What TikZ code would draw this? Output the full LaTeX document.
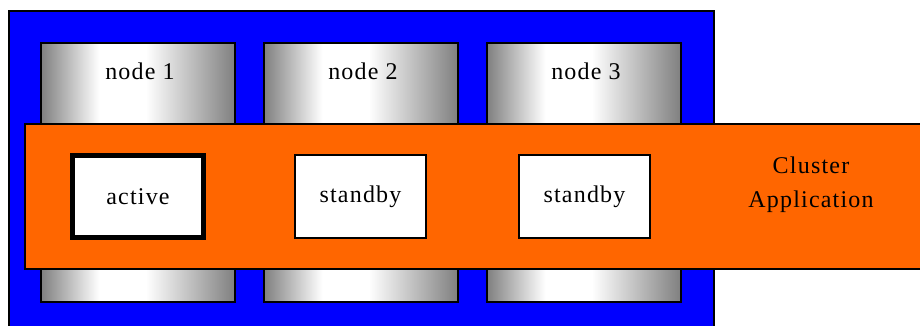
\documentclass[tikz,border=0pt]{standalone}
\usepackage{fontspec}
\setmainfont{Liberation Serif}[LetterSpace=5]
\definecolor{appor}{HTML}{FF6600}
\definecolor{hostblue}{HTML}{0000FF}
\pgfdeclarehorizontalshading{hostshade}{100bp}{color(0bp)=(gray); color(25bp)=(gray); color(40bp)=(white); color(52bp)=(white); color(75bp)=(gray); color(100bp)=(gray)}
\begin{document}
\begin{tikzpicture}[x=1pt,y=-1pt,
  every node/.style={inner sep=0pt, outer sep=0pt},
  lbl/.style={font=\fontsize{24}{34}\selectfont},
  hostbox/.style={draw=black, line width=1.5pt, shading=hostshade, minimum width=194pt, minimum height=259pt},
  appbox/.style={draw=black, line width=1.5pt, fill=appor},
  stbox/.style={draw=black, line width=1.5pt, fill=white, minimum width=131pt, minimum height=83pt, lbl},
  actbox/.style={draw=black, line width=5pt, fill=white, minimum width=131pt, minimum height=82pt, lbl}
]
\useasboundingbox (0,0) rectangle (920,326);
\node[draw=black, line width=1.5pt, fill=hostblue, minimum width=705pt, minimum height=340pt, anchor=north west] (cluster) at (9,11) {};
\node[hostbox] (n1) at (138,172.5) {};
\node[hostbox] (n2) at (361,172.5) {};
\node[hostbox] (n3) at (584,172.5) {};
\node[lbl, anchor=base] (t1) at (140,80) {node 1};
\node[lbl, anchor=base] (t2) at (363,80) {node 2};
\node[lbl, anchor=base] (t3) at (586,80) {node 3};
\node[appbox, minimum width=900pt, minimum height=145pt, anchor=north west] (app) at (25,124) {};
\node[actbox] (a1) at (138,196.5) {active};
\node[stbox] (s2) at (360.5,196.5) {standby};
\node[stbox] (s3) at (584.5,196.5) {standby};
\node[lbl, align=center] (capp) at (811,185) {Cluster\\Application};
\end{tikzpicture}
\end{document}
